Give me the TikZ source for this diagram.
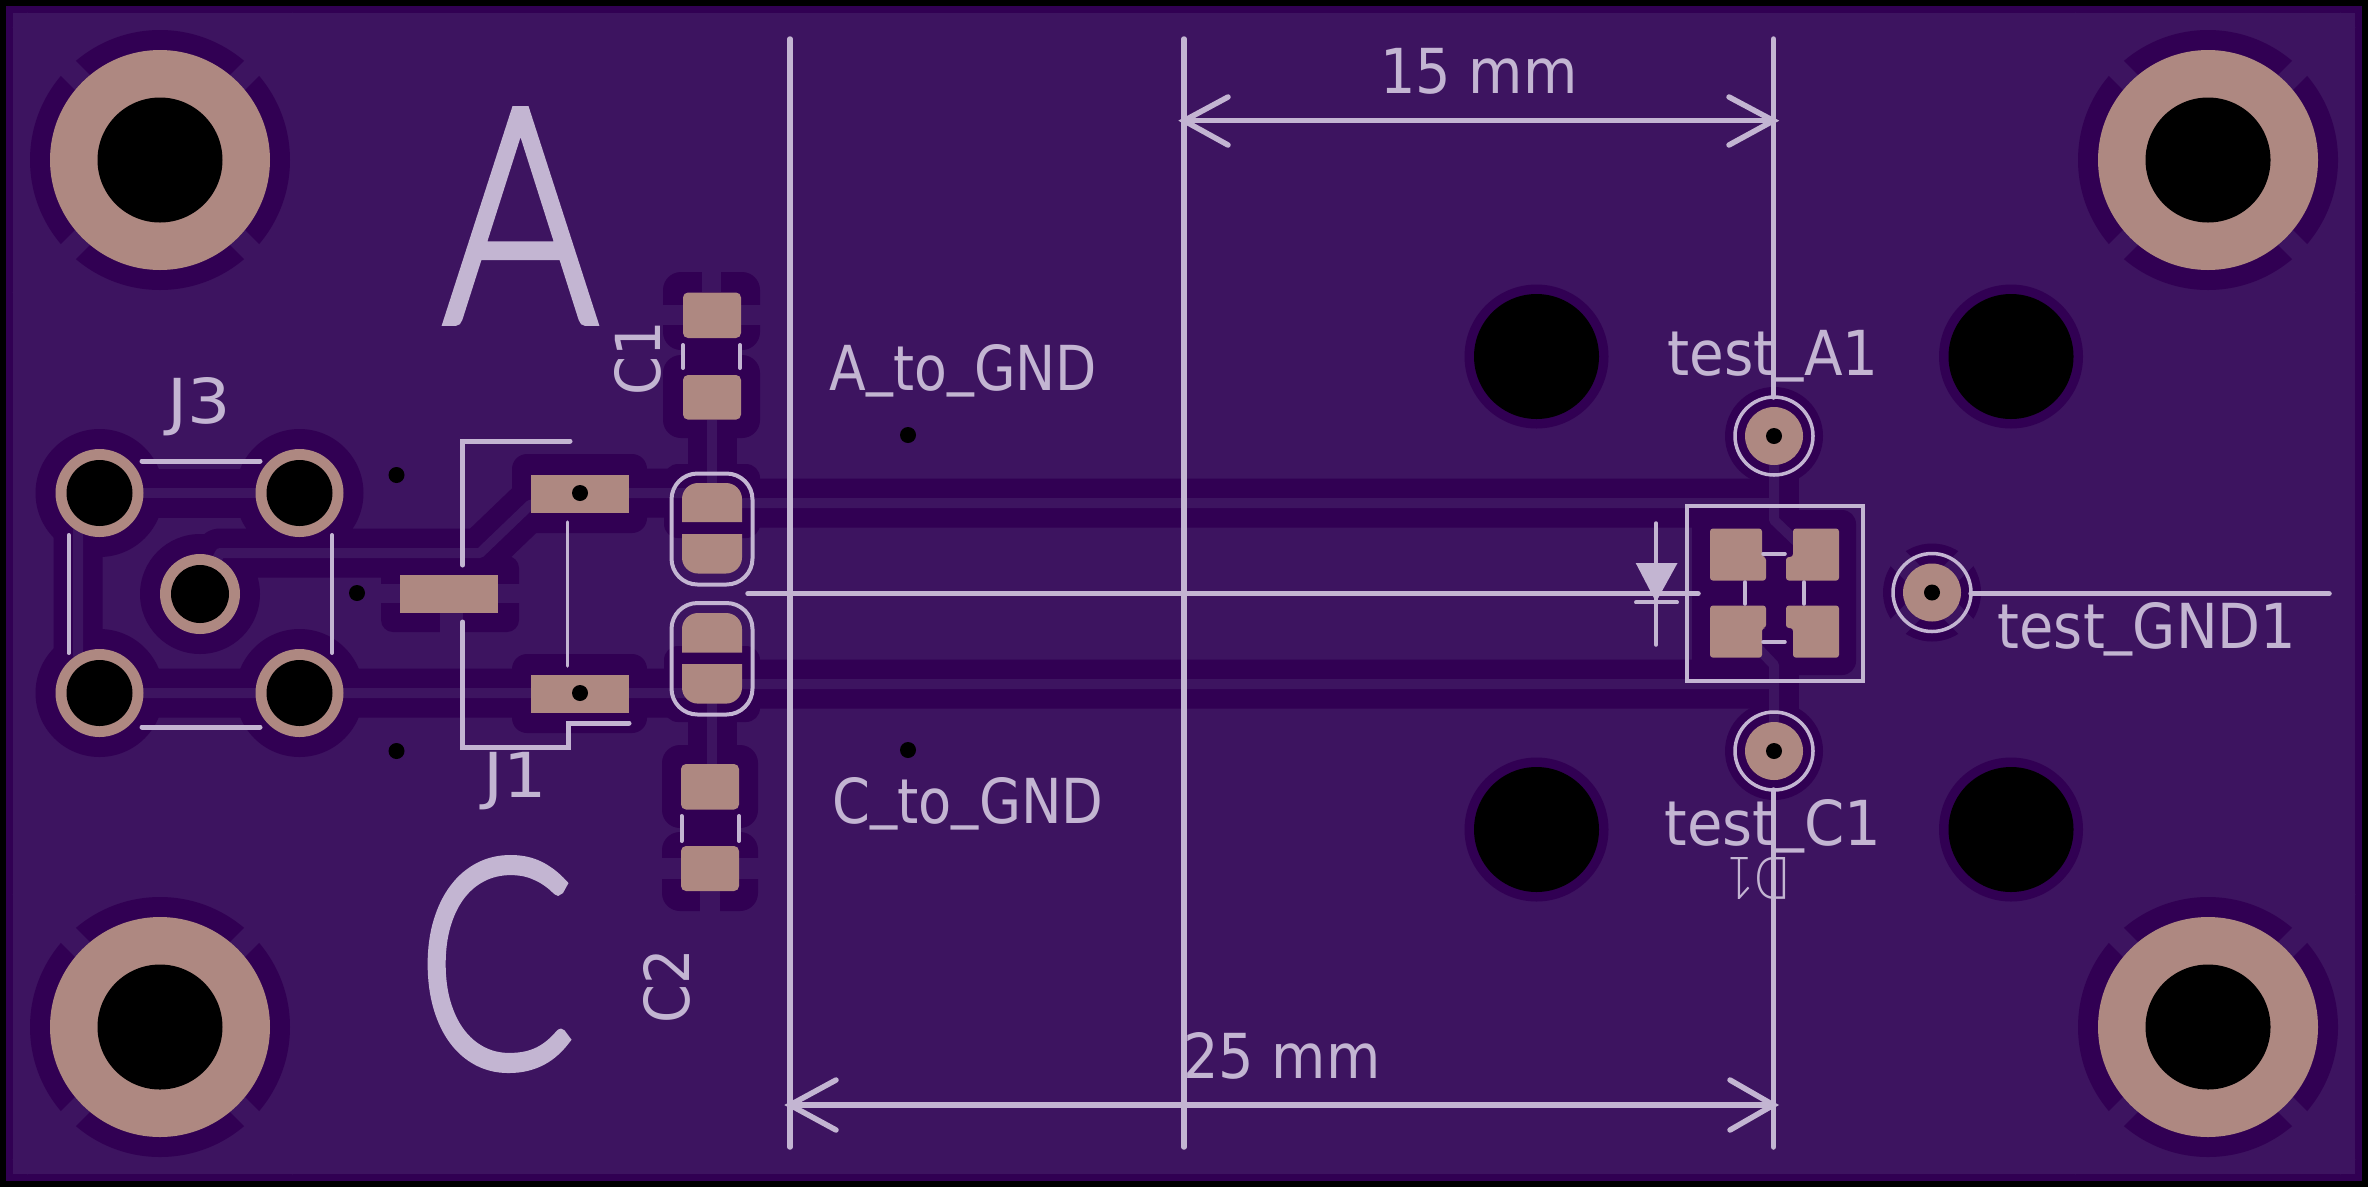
\documentclass[tikz,border=0pt]{standalone}
\usepackage{fontspec}
\usepackage{graphicx}
\setmainfont{DejaVu Sans}
\newfontfamily\thinf{Lato Light}
\newfontfamily\midf[FakeBold=2.5]{Lato Light}
\definecolor{board}{HTML}{3D1460}
\definecolor{clr}{HTML}{310053}
\definecolor{padc}{HTML}{AE8881}
\definecolor{silkc}{HTML}{C3B5D2}
\newcommand\silktext[2][0.9]{\scalebox{#1}[1]{\fontsize{62}{62}\selectfont #2}}
\newcommand\us{\raisebox{0.12em}{\_}}
\tikzset{
  x=1pt,y=-1pt,
  clearline/.style={draw=clr,line width=49pt,line join=round},
  traceline/.style={draw=board,line width=10pt,line join=round},
  spoke/.style={draw=board,line width=21pt},
  silkline/.style={draw=silkc,line width=5pt,line cap=round,line join=miter},
  silkthin/.style={draw=silkc,line width=3.5pt,line cap=round},
  lbl/.style={text=silkc,inner sep=0pt,outer sep=0pt,anchor=base},
  padfill/.style={fill=padc},
}
\begin{document}
\begin{tikzpicture}
\useasboundingbox (0,0) rectangle (2368,1187);
\fill[black] (0,0) rectangle (2368,1187);
\fill[clr] (6,6) rectangle (2362,1181);
\fill[board] (13,13) rectangle (2355,1174);

% ---- mounting pads and their thermal clearances
\foreach \cx/\cy in {160/160,2208/160,160/1027,2208/1027}{
  \fill[clr] (\cx,\cy) circle[radius=130pt];
  \draw[spoke] (\cx-140,\cy-140) -- (\cx+140,\cy+140);
  \draw[spoke] (\cx-140,\cy+140) -- (\cx+140,\cy-140);
}
% ---- big holes clearance
\foreach \cx/\cy in {1536.5/356.5,2011/356.5,1536.5/829.5,2011/829.5}{
  \fill[clr] (\cx,\cy) circle[radius=72pt];
}
% ---- clearances of parts
\foreach \cx/\cy in {99.5/493,299.5/493,99.5/693,299.5/693}{
  \fill[clr] (\cx,\cy) circle[radius=64pt];
}
\fill[clr] (200,594) circle[radius=60pt];
\fill[clr] (1774,436) circle[radius=49pt];
\fill[clr] (1774,751) circle[radius=49pt];
\fill[clr] (1932,592.5) circle[radius=49pt];
\draw[spoke] (1932-45,592.5-45) -- (1932+45,592.5+45);
\draw[spoke] (1932-45,592.5+45) -- (1932+45,592.5-45);
\fill[clr,rounded corners=15pt] (512,454) rectangle (647,533);
\fill[clr,rounded corners=15pt] (512,654) rectangle (647,733);
\fill[clr,rounded corners=12pt] (381,556) rectangle (519,632);
\fill[board] (440,613) rectangle (463,633);
\fill[board] (380,584) rectangle (400,603);
\fill[board] (498,584) rectangle (520,603);
% C1, C2 clearances
\fill[clr,rounded corners=18pt] (663,272) rectangle (760,350);
\fill[clr,rounded corners=18pt] (663,355) rectangle (760,438);
\fill[clr] (682,340) rectangle (741,375);
\fill[clr,rounded corners=18pt] (662,745) rectangle (758,828);
\fill[clr,rounded corners=18pt] (662,832) rectangle (758,911);
\fill[clr] (680,805) rectangle (739,850);
\fill[board] (702,271) rectangle (721,292);
\fill[board] (662,305) rectangle (683,325);
\fill[board] (741,305) rectangle (761,325);
\fill[board] (700,891) rectangle (720,912);
\fill[board] (661,858) rectangle (681,879);
\fill[board] (739,858) rectangle (759,879);
% oval clearances
\fill[clr,rounded corners=14pt] (664,464) rectangle (760,538);
\fill[clr,rounded corners=14pt] (664,646) rectangle (760,722);

% ---- trace clearances
\draw[clearline] (99.5,493) -- (299.5,493);
\draw[clearline] (99.5,693) -- (299.5,693) -- (700,693) -- (712,684) -- (1774,684);
\draw[clearline] (99.5,493) -- (78,530) -- (78,655) -- (99.5,693);
\draw[clearline] (200,594) -- (220,553) -- (480,553) -- (530,505) -- (580,493) -- (700,493) -- (712,503) -- (1774,503);
\draw[clearline] (712,420) -- (712,503);
\draw[clearline] (712,684) -- (712,764);
\draw[clearline] (1774,436) -- (1774,751);
\fill[clr,rounded corners=14pt] (1692,510) rectangle (1856,675);

% ---- traces
\draw[traceline] (99.5,493) -- (299.5,493);
\draw[traceline] (99.5,693) -- (299.5,693) -- (700,693) -- (712,684) -- (1774,684);
\draw[traceline] (99.5,493) -- (78,530) -- (78,655) -- (99.5,693);
\draw[traceline] (200,594) -- (220,553) -- (480,553) -- (530,505) -- (580,493) -- (700,493) -- (712,503) -- (1774,503);
\draw[traceline] (712,420) -- (712,503);
\draw[traceline] (712,684) -- (712,764);
\draw[traceline] (1774,436) -- (1774,520) -- (1800,545);
\draw[traceline] (1774,751) -- (1774,665) -- (1755,645);

% ---- pads
\foreach \cx/\cy in {160/160,2208/160,160/1027,2208/1027}{
  \fill[padfill] (\cx,\cy) circle[radius=110pt];
  \fill[black] (\cx,\cy) circle[radius=62.5pt];
}
\foreach \cx/\cy in {1536.5/356.5,2011/356.5,1536.5/829.5,2011/829.5}{
  \fill[black] (\cx,\cy) circle[radius=62.5pt];
}
\foreach \cx/\cy in {99.5/493,299.5/493,99.5/693,299.5/693}{
  \fill[padfill] (\cx,\cy) circle[radius=44pt];
  \fill[black] (\cx,\cy) circle[radius=33pt];
}
\fill[padfill] (200,594) circle[radius=40pt];
\fill[black] (200,594) circle[radius=29pt];
\foreach \cx/\cy in {1774/436,1774/751,1932/592.5}{
  \fill[padfill] (\cx,\cy) circle[radius=29pt];
  \fill[black] (\cx,\cy) circle[radius=8pt];
  \draw[draw=silkc,line width=3.5pt] (\cx,\cy) circle[radius=39pt];
}
% J1 pads
\fill[padfill] (531,475) rectangle (629,512.7);
\fill[padfill] (531,675) rectangle (629,712.7);
\fill[padfill] (400,575) rectangle (498,612.7);
\fill[black] (580,493) circle[radius=8pt];
\fill[black] (580,693) circle[radius=8pt];
\foreach \cx/\cy in {396.5/475,396.5/751,357/593,908/435,908/750}{
  \fill[black] (\cx,\cy) circle[radius=8pt];
}
% C1, C2 pads
\fill[padfill,rounded corners=5pt] (683,292.5) rectangle (741,338);
\fill[padfill,rounded corners=5pt] (683,375) rectangle (741,419.6);
\fill[padfill,rounded corners=5pt] (681,764) rectangle (739,809.5);
\fill[padfill,rounded corners=5pt] (681,846) rectangle (739,891);
% oval half pads
\fill[padfill] (682,522) [rounded corners=16pt] -- (682,483) -- (742,483) [sharp corners] -- (742,522) -- cycle;
\fill[padfill] (682,534) [rounded corners=16pt] -- (682,573.5) -- (742,573.5) [sharp corners] -- (742,534) -- cycle;
\fill[padfill] (682,652.5) [rounded corners=16pt] -- (682,613) -- (742,613) [sharp corners] -- (742,652.5) -- cycle;
\fill[padfill] (682,664) [rounded corners=16pt] -- (682,703.6) -- (742,703.6) [sharp corners] -- (742,664) -- cycle;
% diode pads
\fill[padfill,rounded corners=3pt] (1710,528.5) -- (1762,528.5) -- (1762,557) -- (1766,557) -- (1766,580.6) -- (1710,580.6) -- cycle;
\fill[padfill,rounded corners=3pt] (1839,528.5) -- (1793,528.5) -- (1793,557) -- (1786,557) -- (1786,580.6) -- (1839,580.6) -- cycle;
\fill[padfill,rounded corners=3pt] (1710,657.7) -- (1762,657.7) -- (1762,628) -- (1766,628) -- (1766,605.5) -- (1710,605.5) -- cycle;
\fill[padfill,rounded corners=3pt] (1839,657.7) -- (1793,657.7) -- (1793,628) -- (1786,628) -- (1786,605.5) -- (1839,605.5) -- cycle;

% ---- silk: connectors
\draw[silkline] (142,461) -- (260,461);
\draw[silkline] (142,727) -- (260,727);
\draw[silkthin,line width=4pt] (68.7,535) -- (68.7,653);
\draw[silkthin,line width=4pt] (332,535) -- (332,653);
\draw[silkline] (570,441) -- (462.7,441) -- (462.7,565);
\draw[silkline] (462.7,622) -- (462.7,747) -- (568,747) -- (568,723) -- (629,723);
\draw[silkthin] (567.7,522) -- (567.7,666);
% C silk
\draw[silkthin,line width=4pt] (683,345) -- (683,368);
\draw[silkthin,line width=4pt] (740,345) -- (740,368);
\draw[silkthin,line width=4pt] (681.5,816) -- (681.5,841);
\draw[silkthin,line width=4pt] (739,816) -- (739,841);
% ovals
\draw[draw=silkc,line width=4pt,rounded corners=26pt] (671.5,473.5) rectangle (752.5,584.5);
\draw[draw=silkc,line width=4pt,rounded corners=26pt] (671.5,603) rectangle (752.5,714.5);
% diode silk
\draw[draw=silkc,line width=4pt] (1687,505.5) rectangle (1862.6,680.6);
\draw[silkthin] (1763,553.8) -- (1785,553.8);
\draw[silkthin] (1763,642) -- (1785,642);
\draw[silkthin] (1745,582) -- (1745,604);
\draw[silkthin] (1804,582) -- (1804,604);
\draw[silkthin] (1656,523) -- (1656,645);
\fill[silkc] (1635.7,563) -- (1677.5,563) -- (1656,602) -- cycle;
\draw[silkline,line width=4pt] (1636,602.4) -- (1677,602.4);

% ---- dimensions
\coordinate (dimA) at (790,39);
\coordinate (dimB) at (1184,39);
\coordinate (dimC) at (1773.5,39);
\draw[silkline,line width=5.5pt] (dimA) -- (790,1147);
\draw[silkline,line width=5.5pt] (dimB) -- (1184,1147);
\draw[silkline,line width=5.5pt] (dimC) -- (1773.5,397);
\draw[silkline,line width=5.5pt] (1773.5,790) -- (1773.5,1147);
\draw[silkline,line width=5.5pt] (1184,120.7) -- (1773.5,120.7);
\draw[silkline,line width=5.5pt] (790,1105) -- (1773.5,1105);
\draw[silkline,line width=5.5pt] (1228,97) -- (1184,120.7) -- (1228,145);
\draw[silkline,line width=5.5pt] (1729,97) -- (1773.5,120.7) -- (1729,145);
\draw[silkline,line width=5.5pt] (836,1080) -- (790,1105) -- (836,1130);
\draw[silkline,line width=5.5pt] (1730,1080) -- (1773.5,1105) -- (1730,1130);
\draw[silkline,line width=5.5pt] (748,593.7) -- (1698,593.7);
\draw[silkline,line width=5.5pt] (1971,593.7) -- (2329,593.7);

% ---- labels
\node[lbl] (t15) at (1479,93) {\silktext{15 mm}};
\node[lbl] (t25) at (1282,1078) {\silktext{25 mm}};
\node[lbl] (tA1) at (1773,375) {\silktext[0.91]{test\us A1}};
\node[lbl] (tC1) at (1773,845.5) {\silktext[0.93]{test\us C1}};
\node[lbl] (tG1) at (2147,648.6) {\silktext{test\us GND1}};
\node[lbl] (tAG) at (963.5,390) {\silktext[0.865]{A\us to\us GND}};
\node[lbl] (tCG) at (968,823) {\silktext[0.875]{C\us to\us GND}};
\node[lbl] (tJ3) at (199,423) {\silktext[1.1]{J3}};
\node[lbl] (tJ1) at (515,797) {\silktext[1.1]{J1}};
\node[lbl,rotate=90] (tC1r) at (660,358) {\silktext{C1}};
\node[lbl,rotate=90] (tC2r) at (689,986) {\silktext{C2}};
\node[text=silkc,inner sep=0pt,anchor=center,rotate=180] (tD1) at (1758.5,878) {\resizebox{63pt}{42pt}{\thinf D1}};
\node[text=silkc,inner sep=0pt,anchor=center] (bigA) at (520.5,216) {\resizebox{155pt}{212pt}{\midf A}};
\node[text=silkc,inner sep=0pt,anchor=center] (bigC) at (496,964) {\resizebox{158pt}{208pt}{\midf C}};
\end{tikzpicture}
\end{document}
